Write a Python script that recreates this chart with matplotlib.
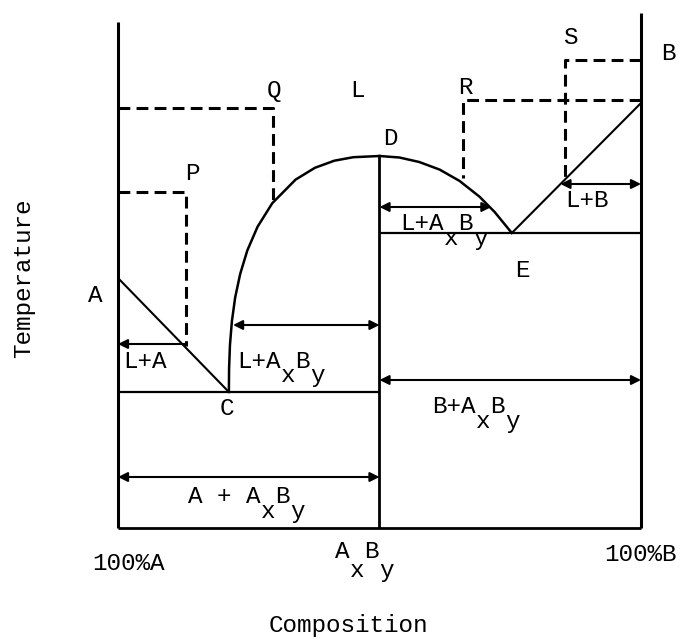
import matplotlib
matplotlib.use("Agg")
import matplotlib.pyplot as plt

# ---------------- data (composition in % B, temperature in arbitrary units) ----------------
comp_A, comp_AxBy, comp_B = 0.0, 50.0, 100.0
T_axis_top_A, T_axis_top_B = 506, 515
T_melt_A, T_melt_B, T_D = 250, 425, 372
comp_C, T_C = 21.2, 136          # eutectic C (A + AxBy)
comp_E, T_E = 75.3, 295          # eutectic E (AxBy + B)

# liquidus of AxBy, branch towards A (C -> D)
left_branch_comp = [21.2, 21.24, 21.41, 21.78, 22.4, 23.36, 24.73, 26.68, 29.5, 33.96, 37.65, 41.36, 45.0, 50.0]
left_branch_T = [136, 159.6, 183.2, 206.8, 230.4, 254, 277.6, 301.2, 324.8, 348.4, 360.2, 367.3, 370.8, 372]
# liquidus of AxBy, branch towards B (D -> E)
right_branch_comp = [50.0, 53.8, 57.6, 61.5, 65.3, 69.1, 72.0, 75.3]
right_branch_T = [372, 370.5, 366, 358.4, 347.1, 331.4, 316.1, 295]

# cooling paths P, Q (from the A side) and R, S (to the B side)
path_names = ["P", "Q", "R", "S"]
path_comp = [13.0, 29.6, 66.0, 85.5]
path_T_start = [336, 420, 428, 468]
path_T_end = [182, 323, 350, 347]

# tie lines (two-phase regions): (comp from, comp to, temperature)
tie_from = [13.0, 22.0, 0.0, 50.0, 84.6, 50.0]
tie_to = [0.0, 50.0, 50.0, 71.4, 100.0, 100.0]
tie_T = [184, 203, 51, 321, 344, 148]
tie_style = ["-|>", "<|-|>", "<|-|>", "<|-|>", "<|-|>", "<|-|>"]

# ---------------- figure ----------------
plt.rcParams["lines.scale_dashes"] = False
FONT = ["Liberation Mono", "DejaVu Sans Mono"]
FS = 17.5
CHAR_W = 0.6 * FS * 100 / 72 / 5.23   # monospace advance in composition units

fig = plt.figure(figsize=(6.83, 6.4), dpi=100)
ax = fig.add_axes([0, 0, 1, 1])
ax.set_xlim(-22.56, 108.03)
ax.set_ylim(-112, 528)
ax.axis("off")

k = dict(color="black", solid_capstyle="butt")
# axes of the diagram
ax.plot([comp_A, comp_A], [0, T_axis_top_A], lw=2.2, **k)
ax.plot([comp_B, comp_B], [0, T_axis_top_B], lw=2.2, **k)
ax.plot([comp_AxBy, comp_AxBy], [0, T_D], lw=2.0, **k)
ax.plot([comp_A, comp_B], [0, 0], lw=2.0, **k)
# eutectic horizontals
ax.plot([comp_A, comp_AxBy], [T_C, T_C], lw=1.6, **k)
ax.plot([comp_AxBy, comp_B], [T_E, T_E], lw=1.6, **k)
# liquidus lines
ax.plot([comp_A, comp_C], [T_melt_A, T_C], lw=1.5, **k)
ax.plot([comp_E, comp_B], [T_E, T_melt_B], lw=1.5, **k)
ax.plot(left_branch_comp, left_branch_T, lw=1.8, color="black")
ax.plot(right_branch_comp, right_branch_T, lw=1.8, color="black")

# cooling paths (dashed)
dash = dict(color="black", lw=2.2, linestyle=(0, (8.5, 4.5)))
for name, c, t0, t1 in zip(path_names, path_comp, path_T_start, path_T_end):
    if c < comp_AxBy:
        ax.plot([comp_A, c, c], [t0, t0, t1], **dash)
    else:
        ax.plot([comp_B, c, c], [t0, t0, t1], **dash)

# tie lines with arrows
for c0, c1, t, st in zip(tie_from, tie_to, tie_T, tie_style):
    ax.annotate("", xy=(c1, t), xytext=(c0, t),
                arrowprops=dict(arrowstyle=st, lw=1.5, color="black",
                                mutation_scale=14, shrinkA=0, shrinkB=0))

txt = dict(family=FONT, fontsize=FS, color="black", va="baseline")

# single labels (center x, baseline)
single = [("A", -4.4, 226), ("P", 14.15, 348), ("Q", 29.83, 431), ("L", 45.7, 431),
          ("D", 52.0, 383), ("R", 66.35, 434), ("S", 86.42, 484), ("B", 105.16, 468),
          ("E", 77.25, 251), ("C", 20.84, 113), ("L+A", 5.16, 160), ("L+B", 89.67, 321)]
for s, x, y in single:
    ax.text(x, y, s, ha="center", **txt)


def typewriter(x, y_top, y_low, pieces):
    """pieces: (text, column, lowered?) placed on a monospace grid."""
    for s, col, low in pieces:
        ax.text(x + col * CHAR_W, y_low if low else y_top, s, ha="left", **txt)


AXBY = [("x", 3, True), ("B", 4, False), ("y", 5, True)]
typewriter(22.75, 160, 146, [("L+A", 0, False)] + AXBY)
typewriter(53.92, 298, 283, [("L+A", 0, False)] + AXBY)
typewriter(60.04, 115, 100, [("B+A", 0, False)] + AXBY)
typewriter(13.38, 25, 10, [("A + A", 0, False), ("x", 5, True), ("B", 6, False), ("y", 7, True)])
typewriter(41.49, -30, -49, [("A", 0, False), ("x", 1, True), ("B", 2, False), ("y", 3, True)])

ax.text(-4.97, -42, "100%A", ha="left", **txt)
ax.text(92.93, -33, "100%B", ha="left", **txt)
ax.text(43.98, -104, "Composition", ha="center", **txt)
ax.text(-17.97, 250, "Temperature", ha="center", va="center", rotation=90,
        family=FONT, fontsize=FS, color="black")

fig.savefig("out.png", dpi=100, facecolor="white")
